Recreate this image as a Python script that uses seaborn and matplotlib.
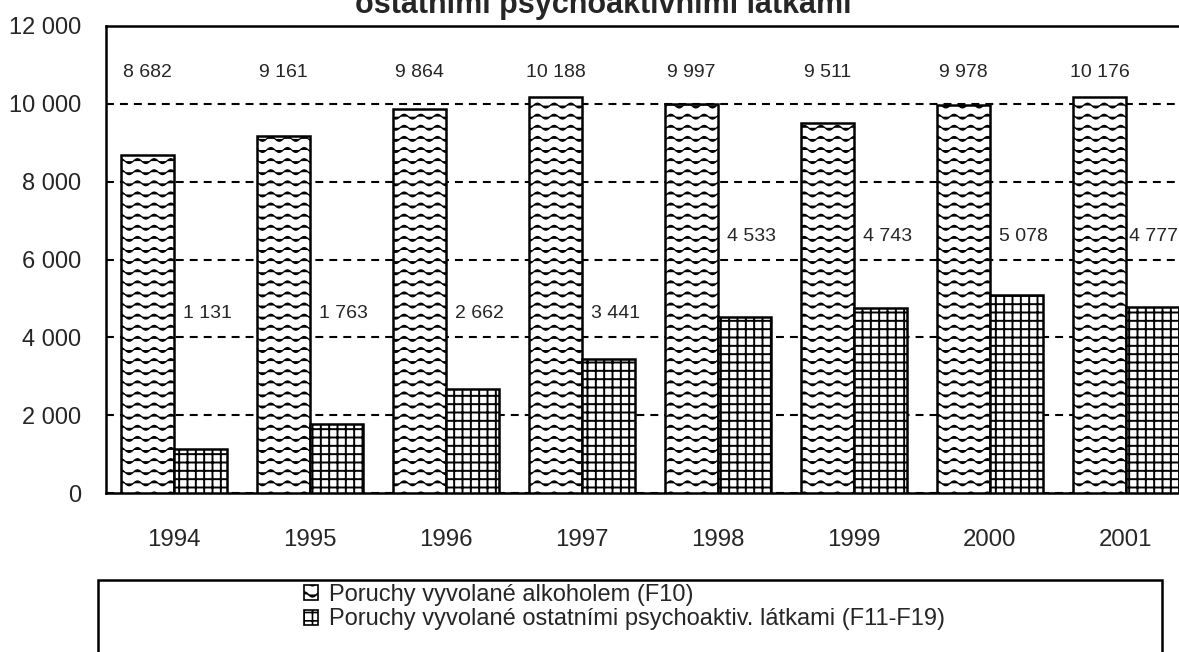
import warnings
import numpy as np
import pandas as pd
import matplotlib
matplotlib.use('Agg')
import matplotlib.pyplot as plt
import matplotlib.hatch as mhatch
from matplotlib.path import Path
from matplotlib.patches import Rectangle, Patch
import seaborn as sns

warnings.filterwarnings('ignore')

years = ['1994', '1995', '1996', '1997', '1998', '1999', '2000', '2001']
alkohol = [8682, 9161, 9864, 10188, 9997, 9511, 9978, 10176]
ostatni = [1131, 1763, 2662, 3441, 4533, 4743, 5078, 4777]
series_names = ['Poruchy vyvolané alkoholem (F10)',
                'Poruchy vyvolané ostatními psychoaktiv. látkami (F11-F19)']
title = 'ostatními psychoaktivními látkami'
yticks = [0, 2000, 4000, 6000, 8000, 10000, 12000]


# wavy hatch ('w'), like the Excel pattern fill
class WaveHatch(mhatch.HatchPatternBase):
    def __init__(self, hatch, density):
        self.num_lines = int(hatch.count('w') * 9)
        self.npts = 6 * 12 + 1
        self.num_vertices = self.num_lines * self.npts

    def set_vertices_and_codes(self, vertices, codes):
        xs = np.linspace(0.0, 1.0, self.npts)
        step = 1.0 / max(self.num_lines, 1)
        for i in range(self.num_lines):
            y0 = (i + 0.5) * step
            seg = slice(i * self.npts, (i + 1) * self.npts)
            vertices[seg, 0] = xs
            vertices[seg, 1] = y0 + 0.024 * np.sin(2 * np.pi * 6 * xs)
            codes[seg] = Path.LINETO
            codes[i * self.npts] = Path.MOVETO


mhatch._hatch_types.append(WaveHatch)

sns.set_style('white')
plt.rcParams['font.family'] = ['Liberation Sans', 'DejaVu Sans']
plt.rcParams['hatch.linewidth'] = 1.2
plt.rcParams['hatch.color'] = 'black'

df = pd.DataFrame({
    'rok': years * 2,
    'pocet': alkohol + ostatni,
    'serie': [series_names[0]] * len(years) + [series_names[1]] * len(years),
})

fig = plt.figure(figsize=(11.79, 6.52), dpi=100)
ax = fig.add_axes([106 / 1179, 159 / 652, 1088 / 1179, 467 / 652])

sns.barplot(data=df, x='rok', y='pocet', hue='serie', order=years,
            hue_order=series_names, palette=['white', 'white'],
            edgecolor='black', linewidth=1.8, width=0.78, gap=0,
            legend=False, ax=ax, zorder=3)

hatches = ['w', '++']
hatch_lw = [0.9, 1.4]
for cont, h, hl in zip(ax.containers, hatches, hatch_lw):
    for bar in cont:
        bar.set_hatch(h)
        if hasattr(bar, 'set_hatch_linewidth'):
            bar.set_hatch_linewidth(hl)

ax.set_xlim(-0.5, 7.5)
ax.set_ylim(0, 12000)
ax.set_yticks(yticks)
ax.set_yticklabels([f'{v:,}'.replace(',', ' ') for v in yticks])
ax.set_xlabel('')
ax.set_ylabel('')
ax.set_xticks(np.arange(-0.5, 8, 1), minor=True)
ax.tick_params(axis='x', which='major', length=0, pad=26, labelsize=17.3)
ax.tick_params(axis='x', which='minor', length=7, width=1.8,
               direction='out', color='black')
ax.tick_params(axis='y', length=7, width=1.8, direction='out',
               color='black', labelsize=17, pad=11)
for s in ['left', 'bottom', 'top']:
    ax.spines[s].set_visible(True)
    ax.spines[s].set_color('black')
    ax.spines[s].set_linewidth(1.8)
ax.spines['right'].set_visible(False)
ax.yaxis.grid(True, color='black', linewidth=1.5,
              linestyle=(0, (3.8, 2.9)), zorder=0)
ax.set_axisbelow(True)

# data labels
for bar, v in zip(ax.containers[0], alkohol):
    ax.text(bar.get_x() + bar.get_width() / 2, 10800,
            f'{v:,}'.replace(',', ' '), ha='center', va='center',
            fontsize=14)
for bar, v in zip(ax.containers[1], ostatni):
    xc = min(bar.get_x() + bar.get_width() / 2 + 0.05, 7.2)
    ax.text(xc, 4620 if v < 4000 else 6580,
            f'{v:,}'.replace(',', ' '), ha='center', va='center',
            fontsize=14)

fig.text(603 / 1179, 1 - 13 / 652, title, ha='center', va='baseline',
         fontsize=22, fontweight='bold')

# legend box
fig.patches.append(Rectangle((98 / 1179, -0.05), 1064 / 1179,
                             0.05 + 72 / 652, transform=fig.transFigure,
                             facecolor='none', edgecolor='black',
                             linewidth=1.8))
handles = [Patch(facecolor='white', edgecolor='black', hatch=h,
                 linewidth=1.2) for h in hatches]
fig.legend(handles, series_names, loc='upper left',
           bbox_to_anchor=(304 / 1179, 1 - 584 / 652), frameon=False,
           fontsize=17, handlelength=0.6, handleheight=0.6,
           handletextpad=0.45, labelspacing=0.1, borderpad=0,
           borderaxespad=0)

fig.savefig('out.png', dpi=100)
